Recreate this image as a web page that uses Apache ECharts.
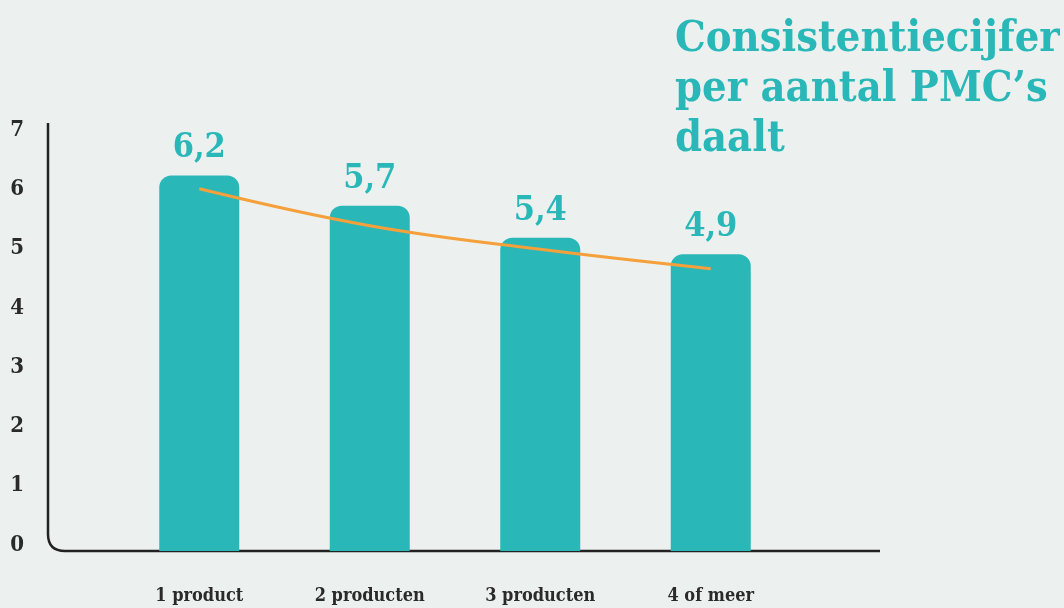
<!DOCTYPE html>
<html>
<head>
<meta charset="utf-8">
<script src="https://cdn.jsdelivr.net/npm/echarts@6/dist/echarts.min.js"></script>
<style>
  html, body { margin: 0; padding: 0; background: #ecf1ef; }
  #chart { width: 1064px; height: 608px; }
</style>
</head>
<body>
<div id="chart"></div>
<script>
// categories and values
const categories = ['1 product', '2 producten', '3 producten', '4 of meer']
const barValues = [6.2, 5.7, 5.17, 4.9]
const barLabels = ['6,2', '5,7', '5,4', '4,9']
const trendValues = [5.98, 5.37, 4.98, 4.66]
const yTicks = [0, 1, 2, 3, 4, 5, 6, 7]

const serif = '"DejaVu Serif Condensed", "DejaVu Serif", serif'
const teal = '#2ab7b8'
const dark = '#2a2a2a'
const axisStyle = { stroke: '#222', lineWidth: 2.5, fill: null }

const chart = echarts.init(document.getElementById('chart'))

chart.setOption({
  backgroundColor: '#ecf1ef',
  title: {
    text: 'Consistentiecijfer\nper aantal PMC\u2019s\ndaalt',
    left: 670,
    top: 10,
    textStyle: {
      fontFamily: serif,
      fontSize: 43,
      lineHeight: 50,
      fontWeight: 'bold',
      color: teal
    }
  },
  grid: [
    // bars
    { left: 114, right: 268, top: 127, bottom: 57 },
    // y labels only
    { left: 48, right: 184, top: 130, bottom: 63 }
  ],
  xAxis: [
    {
      type: 'category',
      gridIndex: 0,
      data: categories,
      axisLine: { show: false },
      axisTick: { show: false },
      axisLabel: {
        margin: 36,
        fontFamily: serif,
        fontSize: 18,
        fontWeight: 'bold',
        color: dark
      }
    },
    {
      type: 'value',
      gridIndex: 1,
      axisLine: { show: false },
      axisTick: { show: false },
      axisLabel: { show: false },
      splitLine: { show: false }
    }
  ],
  yAxis: [
    {
      type: 'value',
      gridIndex: 0,
      min: 0,
      max: 7,
      interval: 1,
      axisLine: { show: false },
      axisLabel: { show: false },
      splitLine: { show: false }
    },
    {
      type: 'value',
      gridIndex: 1,
      min: yTicks[0],
      max: yTicks[yTicks.length - 1],
      interval: 1,
      axisLine: { show: false },
      axisTick: { show: false },
      splitLine: { show: false },
      axisLabel: {
        margin: 24,
        fontFamily: serif,
        fontSize: 22,
        fontWeight: 'bold',
        color: dark
      }
    }
  ],
  series: [
    {
      type: 'bar',
      data: barValues,
      barWidth: 80,
      itemStyle: { color: teal, borderRadius: [12, 12, 0, 0] },
      label: {
        show: true,
        position: 'top',
        distance: 10,
        formatter: p => barLabels[p.dataIndex],
        fontFamily: serif,
        fontSize: 34,
        fontWeight: 'bold',
        color: teal
      },
      z: 2
    },
    {
      type: 'line',
      data: trendValues,
      smooth: 0.4,
      symbol: 'none',
      lineStyle: { color: '#f5a03a', width: 3 },
      z: 3
    }
  ],
  graphic: [
    // axis frame with a rounded corner
    {
      type: 'group',
      z: 10,
      children: [
        { type: 'line', shape: { x1: 48, y1: 123, x2: 48, y2: 534 }, style: axisStyle },
        {
          type: 'bezierCurve',
          shape: { x1: 48, y1: 534, cpx1: 48, cpy1: 551, x2: 65, y2: 551 },
          style: axisStyle
        },
        { type: 'line', shape: { x1: 65, y1: 551, x2: 880, y2: 551 }, style: axisStyle }
      ]
    }
  ]
})
</script>
</body>
</html>
